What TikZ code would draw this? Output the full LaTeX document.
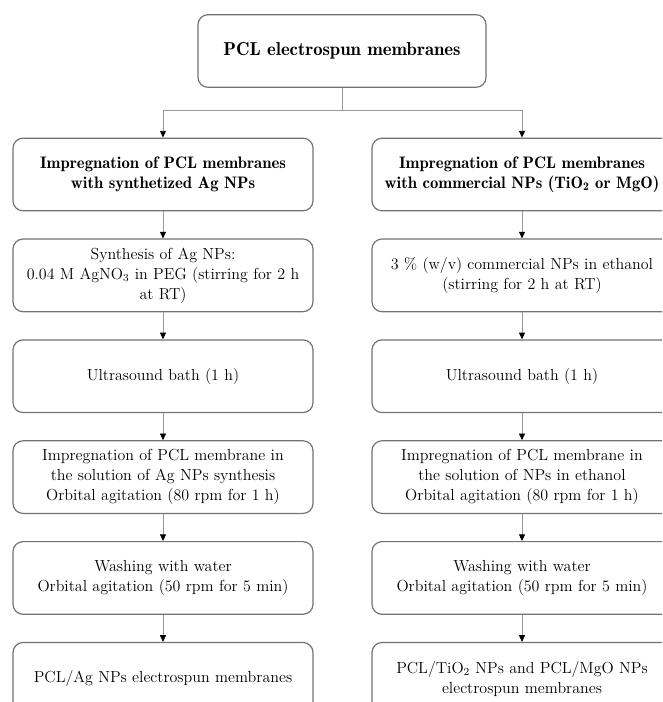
\documentclass[tikz,border=0pt]{standalone}
\usepackage{tikz}
\usetikzlibrary{positioning, arrows.meta}

\begin{document}
\begin{tikzpicture}[
            x=0.75pt, y=-0.75pt,
            node distance=20.25pt,
            % Estilo base para todas las cajas
            base/.style={
                rectangle, draw=black!55, line width=0.9pt, rounded corners=7.5pt,
                align=center, inner sep=4pt, text width=217pt, minimum height=54.5pt,
                font=\fontsize{12}{15}\selectfont
            },
            % Caja superior
            box_principal/.style={
                base, text width=208pt, font=\fontsize{14}{17}\selectfont\fontseries{b}\selectfont
            },
            % Cabeceras de cada columna
            box_titulo/.style={
                base, font=\fontsize{12.5}{15}\selectfont\fontseries{b}\selectfont
            },
            % Pasos del procedimiento
            box_paso/.style={base},
            linea/.style={draw=black!40, line width=0.6pt},
            flecha/.style={linea, -{Triangle[black, length=5pt, width=4.5pt]}}
        ]

            \clip (0,0) rectangle (662,702);
            \useasboundingbox (0,0) rectangle (662,702);

            % 1. Nodo superior
            \node[box_principal] (pcl) at (342,51) {PCL electrospun membranes};

            % 2. Columna izquierda (Ag NPs)
            \node[box_titulo] (ag_imp) at (163,174.5) {Impregnation of PCL membranes\\ with synthetized Ag NPs};
            \node[box_paso, below=of ag_imp] (ag_sint) {Synthesis of Ag NPs:\\ 0.04 M AgNO$_3$ in PEG (stirring for 2 h\\ at RT)};
            \node[box_paso, below=of ag_sint] (ag_ultra) {Ultrasound bath (1 h)};
            \node[box_paso, below=of ag_ultra] (ag_agit) {Impregnation of PCL membrane in\\ the solution of Ag NPs synthesis\\ Orbital agitation (80 rpm for 1 h)};
            \node[box_paso, below=of ag_agit] (ag_lav) {Washing with water\\ Orbital agitation (50 rpm for 5 min)};
            \node[box_paso, below=of ag_lav] (ag_fin) {PCL/Ag NPs electrospun membranes};

            % 3. Columna derecha (TiO2 / MgO)
            \node[box_titulo] (com_imp) at (522,174.5) {Impregnation of PCL membranes\\ \mbox{with commercial NPs (TiO\textsubscript{2} or MgO)}};
            \node[box_paso, below=of com_imp] (com_disp) {3 \% (w/v) commercial NPs in ethanol\\ (stirring for 2 h at RT)};
            \node[box_paso, below=of com_disp] (com_ultra) {Ultrasound bath (1 h)};
            \node[box_paso, below=of com_ultra] (com_agit) {Impregnation of PCL membrane in\\ the solution of NPs in ethanol\\ Orbital agitation (80 rpm for 1 h)};
            \node[box_paso, below=of com_agit] (com_lav) {Washing with water\\ Orbital agitation (50 rpm for 5 min)};
            \node[box_paso, below=of com_lav] (com_fin) {PCL/TiO\textsubscript{2} NPs and PCL/MgO NPs\\ electrospun membranes};

            % --- CONEXIONES ---
            \coordinate (bifurca) at ([yshift=-16.5pt]pcl.south);
            \draw[linea] (pcl.south) -- (bifurca);
            \draw[flecha] (bifurca) -| (ag_imp.north);
            \draw[flecha] (bifurca) -| (com_imp.north);

            \draw[flecha] (ag_imp) -- (ag_sint);
            \draw[flecha] (ag_sint) -- (ag_ultra);
            \draw[flecha] (ag_ultra) -- (ag_agit);
            \draw[flecha] (ag_agit) -- (ag_lav);
            \draw[flecha] (ag_lav) -- (ag_fin);

            \draw[flecha] (com_imp) -- (com_disp);
            \draw[flecha] (com_disp) -- (com_ultra);
            \draw[flecha] (com_ultra) -- (com_agit);
            \draw[flecha] (com_agit) -- (com_lav);
            \draw[flecha] (com_lav) -- (com_fin);

        \end{tikzpicture}
\end{document}
